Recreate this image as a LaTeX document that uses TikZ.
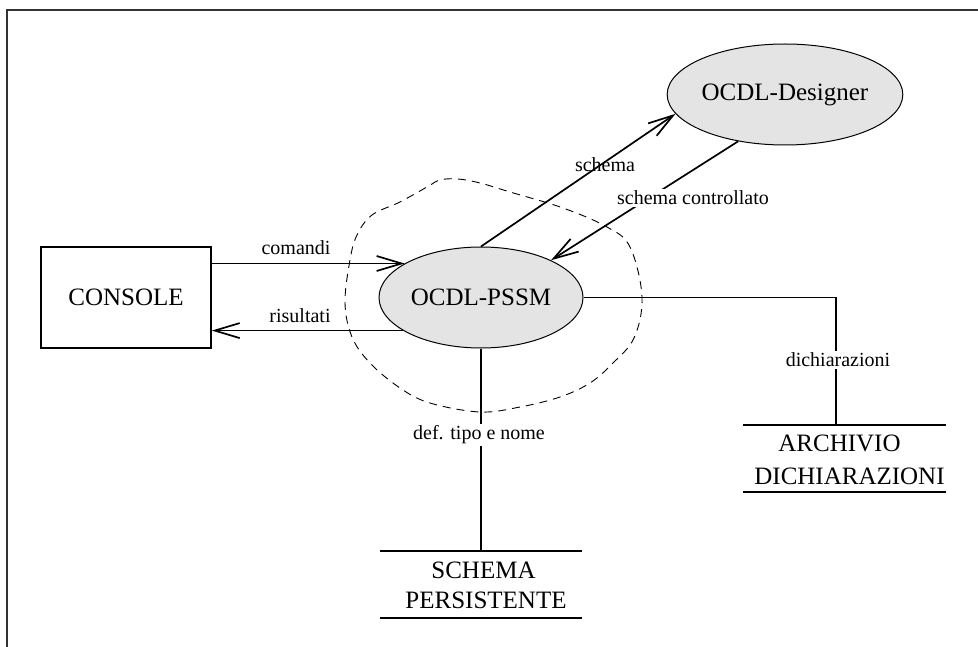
\documentclass[tikz,border=0pt]{standalone}
\usepackage{fontspec}
\setmainfont{Liberation Serif}
\usetikzlibrary{shapes.geometric,arrows.meta,calc}
\definecolor{procfill}{HTML}{E4E4E4}
\begin{document}
\begin{tikzpicture}[x=1pt,y=-1pt,
  proc/.style={ellipse,draw,line width=1pt,fill=procfill,minimum width=204pt,minimum height=101pt,inner sep=0pt,font=\fontsize{25}{30}\selectfont},
  ext/.style={rectangle,draw,line width=1.5pt,minimum width=170pt,minimum height=101pt,inner sep=0pt,font=\fontsize{25}{30}\selectfont},
  big/.style={inner sep=0pt,font=\fontsize{25}{30}\selectfont},
  lbl/.style={inner sep=1pt,font=\fontsize{20}{24}\selectfont},
  wlbl/.style={lbl,fill=white,inner sep=2pt},
  flow/.style={line width=1.7pt},
  arr/.style={flow,-{Straight Barb[length=25pt,width=15pt,line width=1.7pt]}},
  storeline/.style={line width=1.7pt}
]
\useasboundingbox (0,0) rectangle (978,647);
% frame
\draw[line width=1.2pt,black!80] (7,647) -- (7,10) -- (978,10);

% cloud
\draw[line width=0.9pt,dash pattern=on 8pt off 6pt] plot[smooth cycle,tension=0.6] coordinates {
 (440,180) (458,179) (480,183) (510,192) (563,208) (607,227) (630,247) (642,297)
 (634,338) (612,364) (590,383) (560,397) (520,407) (480,412) (430,403) (400,388)
 (370,363) (352,337) (345,303) (350,260) (357,235) (372,215) (400,202) (427,187)};

% nodes
\node[ext] (console) at (126,297.5) {CONSOLE};
\node[proc] (pssm) at (481,297.5) {OCDL-PSSM};
\node[proc] (designer) at (785,94.5) {OCDL-Designer};

% stores
\coordinate (s1) at (380,551); \coordinate (s2) at (582,551);
\coordinate (s3) at (380,618); \coordinate (s4) at (582,618);
\coordinate (smid) at (481,551);
\draw[storeline] (s1) -- (s2);
\draw[storeline] (s3) -- (s4);
\node[big] (schema1) at (483.5,570) {SCHEMA};
\node[big] (schema2) at (486,600) {PERSISTENTE};

\coordinate (a1) at (743,425); \coordinate (a2) at (946,425);
\coordinate (a3) at (743,492); \coordinate (a4) at (946,492);
\coordinate (amid) at (836,425);
\draw[storeline] (a1) -- (a2);
\draw[storeline] (a3) -- (a4);
\node[big] (arch1) at (839.5,443) {ARCHIVIO};
\node[big] (arch2) at (849.5,476) {DICHIARAZIONI};

% flows
\draw[arr] (console.east |- pssm.156.3) -- (pssm.156.3);
\draw[arr] (pssm.203.7) -- (console.east |- pssm.203.7);
\draw[arr] (pssm.north) -- (designer.190.7);
\draw[arr] (designer.225) -- (pssm.28);
\draw[flow] (pssm.east) -| (amid);
\draw[flow] (pssm.south) -- (smid);

% labels
\node[lbl] (lcom) at (296,248) {comandi};
\node[lbl] (lris) at (300,316) {risultati};
\node[lbl] (lsch) at (605,165) {schema};
\node[wlbl] (lctl) at (693,198) {schema controllato};
\node[wlbl] (ldef) at (479,435) {def. tipo e nome};
\node[wlbl] (ldic) at (838,360) {dichiarazioni};
\end{tikzpicture}
\end{document}
